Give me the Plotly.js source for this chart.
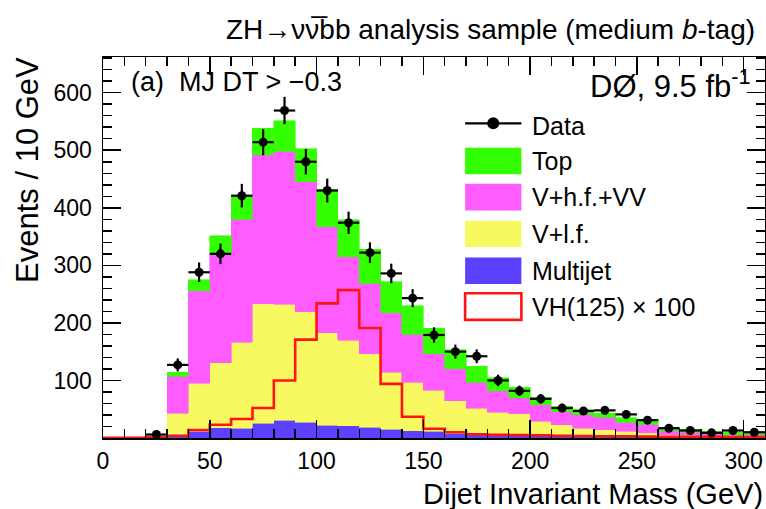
<!DOCTYPE html>
<html>
<head>
<meta charset="utf-8">
<script src="https://cdn.plot.ly/plotly-3.0.1.min.js"></script>
<style>
  html, body { margin: 0; padding: 0; background: #ffffff; }
  #chart { width: 766px; height: 509px; }
</style>
</head>
<body>
<div id="chart"></div>
<script>
// Dijet invariant mass, 10 GeV bins; stacked backgrounds start at 20 GeV
const binCenters = [25, 35, 45, 55, 65, 75, 85, 95, 105, 115, 125, 135, 145, 155, 165,
                    175, 185, 195, 205, 215, 225, 235, 245, 255, 265, 275, 285, 295, 305];

const multijet = [0.5, 4, 11.5, 18, 17, 26, 30.6, 27, 22, 21, 18.5, 15.6, 12.7, 11.5, 8,
                  6.5, 5.5, 5, 4, 3.5, 3, 3, 2.5, 2, 2, 1.5, 1.5, 1, 1];
const vLightFlavour = [1, 39, 84, 113, 149, 207, 202, 192, 161, 149, 128, 99, 84, 71.5, 57,
                       45.5, 39.5, 37, 25, 19.5, 14, 11, 9, 7, 4, 3.5, 2.5, 2, 2];
const vHeavyFlavourVV = [0.5, 64, 160.5, 189, 214, 259, 266, 226, 184, 145, 122.5, 103, 84, 63.5, 55,
                         45, 37, 28, 29, 23, 23, 22, 15.5, 15, 7, 5, 3, 3, 2.5];
const topQuark = [0, 7, 19, 31, 41, 46, 53, 58, 65, 64, 59, 54, 49, 44.5, 33,
                  27.5, 23, 18, 13, 9, 9, 7, 8, 8.6, 6, 5, 5, 4, 3.5];
const dataCounts = [6, 127, 288, 320, 421, 514, 569, 480, 430, 374, 322, 286, 243, 179, 150,
                    142, 100, 82, 68, 52, 47, 48, 41, 31, 17, 13, 9, 13, 10];

// VH(125) signal scaled by 100, bins from 0 to 310 GeV
const signalEdges = [0, 10, 20, 30, 40, 50, 60, 70, 80, 90, 100, 110, 120, 130, 140, 150,
                     160, 170, 180, 190, 200, 210, 220, 230, 240, 250, 260, 270, 280, 290, 300, 310];
const signalX100 = [0.5, 0.5, 1, 4, 14, 23, 33, 52, 100, 171, 234, 257, 191, 94, 37, 16,
                    10, 6.5, 5.5, 5, 4.5, 4, 3.5, 3, 3, 2.5, 2, 2, 2, 1.5, 1.5];

const C_TOP = 'rgb(51,255,0)';
const C_HF = 'rgb(255,92,255)';
const C_LF = 'rgb(248,248,96)';
const C_MJ = 'rgb(92,64,255)';
const C_SIG = 'rgb(255,20,20)';
const FONT = 'Liberation Sans, Arial, Helvetica, sans-serif';

function stackTrace(name, values, color) {
  return {
    type: 'bar', name: name, x: binCenters, y: values, width: 10,
    marker: { color: color, line: { color: color, width: 0.6 } },
    showlegend: false, hoverinfo: 'skip'
  };
}

// step outline: repeat the last bin value at the upper edge
const sigY = signalX100.concat([signalX100[signalX100.length - 1]]);

const traces = [
  stackTrace('Multijet', multijet, C_MJ),
  stackTrace('V+l.f.', vLightFlavour, C_LF),
  stackTrace('V+h.f.+VV', vHeavyFlavourVV, C_HF),
  stackTrace('Top', topQuark, C_TOP),
  {
    type: 'scatter', mode: 'lines', name: 'VH(125) × 100',
    x: signalEdges, y: sigY, line: { shape: 'hv', color: C_SIG, width: 2.6 },
    showlegend: false, hoverinfo: 'skip'
  },
  {
    type: 'scatter', mode: 'markers', name: 'Data',
    x: binCenters, y: dataCounts,
    marker: { color: 'black', size: 9 },
    error_y: { type: 'sqrt', color: 'black', thickness: 2.2, width: 0 },
    error_x: { type: 'constant', value: 5, color: 'black', thickness: 2.2, width: 0 },
    showlegend: false, hoverinfo: 'skip'
  }
];

// hand-drawn legend in paper coordinates
const legBoxX0 = 0.547, legBoxX1 = 0.632, legTextX = 0.645;
const legendRows = [
  { label: 'Top', y0: 0.692, y1: 0.762, fill: C_TOP },
  { label: 'V+h.f.+VV', y0: 0.597, y1: 0.667, fill: C_HF },
  { label: 'V+l.f.', y0: 0.501, y1: 0.570, fill: C_LF },
  { label: 'Multijet', y0: 0.404, y1: 0.474, fill: C_MJ },
  { label: 'VH(125) × 100', y0: 0.310, y1: 0.380, fill: null }
];
const dataRowY = 0.826;
const LEG_SIZE = 25;

const shapes = [];
const annotations = [];
legendRows.forEach(r => {
  shapes.push({
    type: 'rect', xref: 'paper', yref: 'paper',
    x0: legBoxX0, x1: legBoxX1, y0: r.y0, y1: r.y1,
    fillcolor: r.fill ? r.fill : 'rgba(0,0,0,0)',
    line: r.fill ? { width: 0 } : { color: C_SIG, width: 2.6 }
  });
  annotations.push({
    xref: 'paper', yref: 'paper', x: legTextX, y: (r.y0 + r.y1) / 2,
    xanchor: 'left', yanchor: 'middle', showarrow: false, text: r.label,
    font: { family: FONT, size: LEG_SIZE, color: 'black' }
  });
});
shapes.push({
  type: 'line', xref: 'paper', yref: 'paper',
  x0: legBoxX0, x1: legBoxX1, y0: dataRowY, y1: dataRowY,
  line: { color: 'black', width: 2.2 }
});
shapes.push({
  type: 'circle', xref: 'paper', yref: 'paper',
  xsizemode: 'pixel', ysizemode: 'pixel',
  xanchor: (legBoxX0 + legBoxX1) / 2, yanchor: dataRowY,
  x0: -6, x1: 6, y0: -6, y1: 6,
  fillcolor: 'black', line: { color: 'black', width: 0 }
});
annotations.push({
  xref: 'paper', yref: 'paper', x: legTextX, y: dataRowY - 0.008,
  xanchor: 'left', yanchor: 'middle', showarrow: false, text: 'Data',
  font: { family: FONT, size: LEG_SIZE, color: 'black' }
});

// headers and axis titles
annotations.push({
  xref: 'paper', yref: 'paper', x: 0.988, y: 1.073, xanchor: 'right', yanchor: 'middle',
  showarrow: false, text: 'ZH\u2192\u03bd\u03bd\u0305bb analysis sample (medium <i>b</i>-tag)',
  font: { family: FONT, size: 28, color: 'black' }
});
annotations.push({
  xref: 'paper', yref: 'paper', x: 0.040, y: 0.934, xanchor: 'left', yanchor: 'middle',
  showarrow: false, text: '(a)  MJ DT > \u22120.3',
  font: { family: FONT, size: 27, color: 'black' }
});
annotations.push({
  xref: 'paper', yref: 'paper', x: 0.982, y: 0.929, xanchor: 'right', yanchor: 'middle',
  showarrow: false, text: 'D\u00d8, 9.5 fb<sup>-1</sup>',
  font: { family: FONT, size: 31, color: 'black' }
});
annotations.push({
  xref: 'paper', yref: 'paper', x: 1.0, y: -0.146, xanchor: 'right', yanchor: 'middle',
  showarrow: false, text: 'Dijet Invariant Mass (GeV)',
  font: { family: FONT, size: 29, color: 'black' }
});
annotations.push({
  xref: 'paper', yref: 'paper', x: -0.115, y: 1.005, xanchor: 'center', yanchor: 'top',
  showarrow: false, text: 'Events / 10 GeV', textangle: -90,
  font: { family: FONT, size: 31, color: 'black' }
});

const layout = {
  width: 766, height: 509,
  margin: { l: 103, r: 1, t: 57, b: 71 },
  paper_bgcolor: 'white', plot_bgcolor: 'white',
  barmode: 'stack', bargap: 0,
  showlegend: false,
  font: { family: FONT, color: 'black' },
  xaxis: {
    range: [0, 310], showgrid: false, zeroline: false,
    showline: true, linecolor: 'black', linewidth: 1.5, mirror: 'ticks',
    ticks: 'inside', ticklen: 18, tickwidth: 1.5, tickcolor: 'black',
    tickmode: 'linear', tick0: 0, dtick: 50,
    minor: { ticks: 'inside', ticklen: 9, tickwidth: 1.5, tickcolor: 'black', dtick: 10, tick0: 0, showgrid: false },
    tickfont: { family: FONT, size: 23, color: 'black' },
    ticklabelstandoff: 2
  },
  yaxis: {
    range: [0, 662], showgrid: false, zeroline: false,
    showline: true, linecolor: 'black', linewidth: 1.5, mirror: 'ticks',
    ticks: 'inside', ticklen: 18, tickwidth: 1.5, tickcolor: 'black',
    tickmode: 'array', tickvals: [100, 200, 300, 400, 500, 600],
    minor: { ticks: 'inside', ticklen: 9, tickwidth: 1.5, tickcolor: 'black', tickmode: 'linear', dtick: 20, tick0: 0, showgrid: false },
    tickfont: { family: FONT, size: 23, color: 'black' },
    ticklabelstandoff: 5
  },
  shapes: shapes,
  annotations: annotations
};

Plotly.newPlot('chart', traces, layout, { displayModeBar: false, staticPlot: true });
</script>
</body>
</html>
